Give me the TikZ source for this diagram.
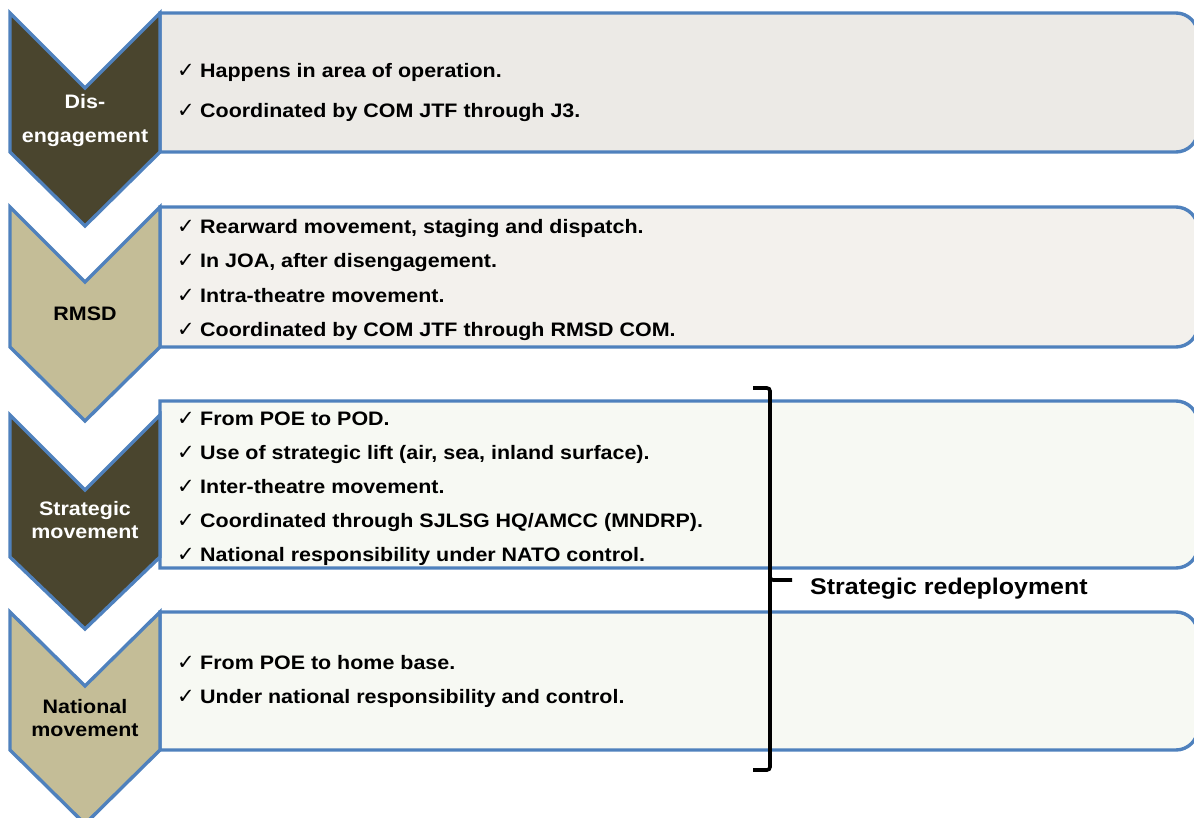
\documentclass[tikz,border=0pt]{standalone}
\usepackage{fontspec}
\setmainfont{Liberation Sans}[FakeStretch=1.1]
\newfontfamily\chk{DejaVu Sans}
\definecolor{bord}{HTML}{4F81BD}
\definecolor{dark}{HTML}{4A452E}
\definecolor{tan}{HTML}{C4BD97}
\definecolor{fa}{HTML}{ECEAE6}
\definecolor{fb}{HTML}{F3F1ED}
\definecolor{fc}{HTML}{F7F9F3}
\begin{document}
\begin{tikzpicture}[x=1pt,y=-1pt,font=\bfseries\fontsize{19.5}{23}\selectfont]
\tikzset{
 bx/.style={draw=bord,line width=3.4pt},
 chev/.style={draw=bord,line width=3.4pt,line join=miter},
 item/.style={anchor=base west,inner sep=0pt,text=black},
 tick/.style={anchor=base west,inner sep=0pt,font=\chk\mdseries\fontsize{21}{24}\selectfont},
 lab/.style={anchor=base,inner sep=0pt},
 brace/.style={draw=black,line width=3.6pt,rounded corners=3pt}
}
\useasboundingbox (0,0) rectangle (1194,818);
\clip (0,0) rectangle (1194,818);
% boxes
\draw[bx,fill=fa] (160,13) -- (1176,13) .. controls (1188,13) and (1198,23) .. (1198,35) -- (1198,130) .. controls (1198,142) and (1188,152) .. (1176,152) -- (160,152) -- cycle;
\draw[bx,fill=fb] (160,207) -- (1176,207) .. controls (1188,207) and (1198,217) .. (1198,229) -- (1198,325) .. controls (1198,337) and (1188,347) .. (1176,347) -- (160,347) -- cycle;
\draw[bx,fill=fc] (160,401) -- (1176,401) .. controls (1188,401) and (1198,411) .. (1198,423) -- (1198,546) .. controls (1198,558) and (1188,568) .. (1176,568) -- (160,568) -- cycle;
\draw[bx,fill=fc] (160,612) -- (1176,612) .. controls (1188,612) and (1198,622) .. (1198,634) -- (1198,728) .. controls (1198,740) and (1188,750) .. (1176,750) -- (160,750) -- cycle;
% chevrons
\draw[chev,fill=dark] (10,13) -- (85,88) -- (160,13) -- (160,152) -- (85,226) -- (10,152) -- cycle;
\draw[chev,fill=tan] (10,207) -- (85,282) -- (160,207) -- (160,347) -- (85,421) -- (10,347) -- cycle;
\draw[chev,fill=dark] (10,415) -- (85,490) -- (160,415) -- (160,557) -- (85,629) -- (10,557) -- cycle;
\draw[chev,fill=tan] (10,612) -- (85,686) -- (160,612) -- (160,750) -- (85,824) -- (10,750) -- cycle;
% chevron labels
\node[lab,text=white] (c1a) at (85,109) {Dis-};
\node[lab,text=white] (c1b) at (85,143) {engagement};
\node[lab,text=black] (c2) at (85,320) {RMSD};
\node[lab,text=white] (c3a) at (85,515) {Strategic};
\node[lab,text=white] (c3b) at (85,538) {movement};
\node[lab,text=black] (c4a) at (85,713) {National};
\node[lab,text=black] (c4b) at (85,736) {movement};
% box 1
\node[tick] (t11) at (177,78) {✓}; \node[item] (i11) at (200,78) {Happens in area of operation.};
\node[tick] (t12) at (177,118) {✓}; \node[item] (i12) at (200,118) {Coordinated by COM JTF through J3.};
% box 2
\node[tick] (t21) at (177,234) {✓}; \node[item] (i21) at (200,234) {Rearward movement, staging and dispatch.};
\node[tick] (t22) at (177,268) {✓}; \node[item] (i22) at (200,268) {In JOA, after disengagement.};
\node[tick] (t23) at (177,302) {✓}; \node[item] (i23) at (200,302) {Intra-theatre movement.};
\node[tick] (t24) at (177,337) {✓}; \node[item] (i24) at (200,337) {Coordinated by COM JTF through RMSD COM.};
% box 3
\node[tick] (t31) at (177,425) {✓}; \node[item] (i31) at (200,425) {From POE to POD.};
\node[tick] (t32) at (177,459) {✓}; \node[item] (i32) at (200,459) {Use of strategic lift (air, sea, inland surface).};
\node[tick] (t33) at (177,493) {✓}; \node[item] (i33) at (200,493) {Inter-theatre movement.};
\node[tick] (t34) at (177,527) {✓}; \node[item] (i34) at (200,527) {Coordinated through SJLSG HQ/AMCC (MNDRP).};
\node[tick] (t35) at (177,561) {✓}; \node[item] (i35) at (200,561) {National responsibility under NATO control.};
% box 4
\node[tick] (t41) at (177,669) {✓}; \node[item] (i41) at (200,669) {From POE to home base.};
\node[tick] (t42) at (177,703) {✓}; \node[item] (i42) at (200,703) {Under national responsibility and control.};
% brace
\coordinate (bt) at (753,388);
\coordinate (bm) at (792,580);
\coordinate (bb) at (753,770);
\draw[brace] (bt) -- (770,388) -- (770,580) -- (bm);
\draw[brace] (770,576) -- (770,770) -- (bb);
\node[anchor=base west,inner sep=0pt,font=\bfseries\fontsize{22.7}{26}\selectfont] (sr) at (810,594) {Strategic redeployment};
\end{tikzpicture}
\end{document}
